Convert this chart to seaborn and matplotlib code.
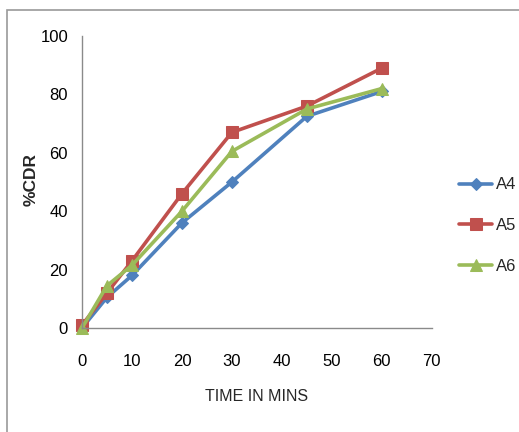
import matplotlib
matplotlib.use("Agg")
import matplotlib.pyplot as plt
import matplotlib.patches as mpatches
import seaborn as sns
import pandas as pd

# Release profile data
time_min = [0, 5, 10, 20, 30, 45, 60]
a4 = [0, 10.5, 18, 36, 50, 72.5, 81]
a5 = [1, 12, 23, 46, 67, 76, 89]
a6 = [0, 14.5, 21.5, 40, 60.5, 75, 82]
series_names = ["A4", "A5", "A6"]
x_ticks = [0, 10, 20, 30, 40, 50, 60, 70]
y_ticks = [0, 20, 40, 60, 80, 100]

df = pd.DataFrame({
    "time": time_min * 3,
    "cdr": a4 + a5 + a6,
    "batch": [n for n in series_names for _ in time_min],
})

sns.set_style("white")
plt.rcParams["font.family"] = ["Liberation Sans", "DejaVu Sans"]

colors = {"A4": "#4F81BD", "A5": "#C0504D", "A6": "#9BBB59"}
markers = {"A4": "D", "A5": "s", "A6": "^"}
msize = {"A4": 6, "A5": 8.5, "A6": 8.5}

fig = plt.figure(figsize=(5.19, 4.32), dpi=100)
ax = fig.add_axes([0.158, 0.2407, 0.674, 0.676])

for name in series_names:
    sub = df[df["batch"] == name]
    sns.lineplot(data=sub, x="time", y="cdr", ax=ax, color=colors[name],
                 marker=markers[name], markersize=msize[name],
                 markeredgecolor=colors[name], linewidth=2.6,
                 label=name, clip_on=False)

ax.set_xlim(0, 70)
ax.set_ylim(0, 100)
ax.set_xticks(x_ticks)
ax.set_yticks(y_ticks)
ax.tick_params(axis="both", length=0, labelsize=12, colors="black")
ax.tick_params(axis="x", pad=19)
ax.tick_params(axis="y", pad=10)
for side in ("top", "right"):
    ax.spines[side].set_visible(False)
for side in ("left", "bottom"):
    ax.spines[side].set_color("#8a8a8a")
    ax.spines[side].set_linewidth(1.0)

ax.set_xlabel("TIME IN MINS", fontsize=11.5, labelpad=14)
ax.set_ylabel("%CDR", fontsize=12.5, fontweight="bold")
ax.yaxis.set_label_coords(-0.125, 0.507)

leg = ax.legend(loc="center left", bbox_to_anchor=(1.035, 0.35), frameon=False,
                fontsize=12, handlelength=2.0, handletextpad=0.2,
                labelspacing=1.55)

# Outer chart frame
frame = mpatches.Rectangle((7 / 519, -0.05), 1.1, 1 - 10 / 432 + 0.05,
                           transform=fig.transFigure, fill=False,
                           edgecolor="#9a9a9a", linewidth=1.2)
fig.patches.append(frame)

fig.savefig("out.png", dpi=100)
